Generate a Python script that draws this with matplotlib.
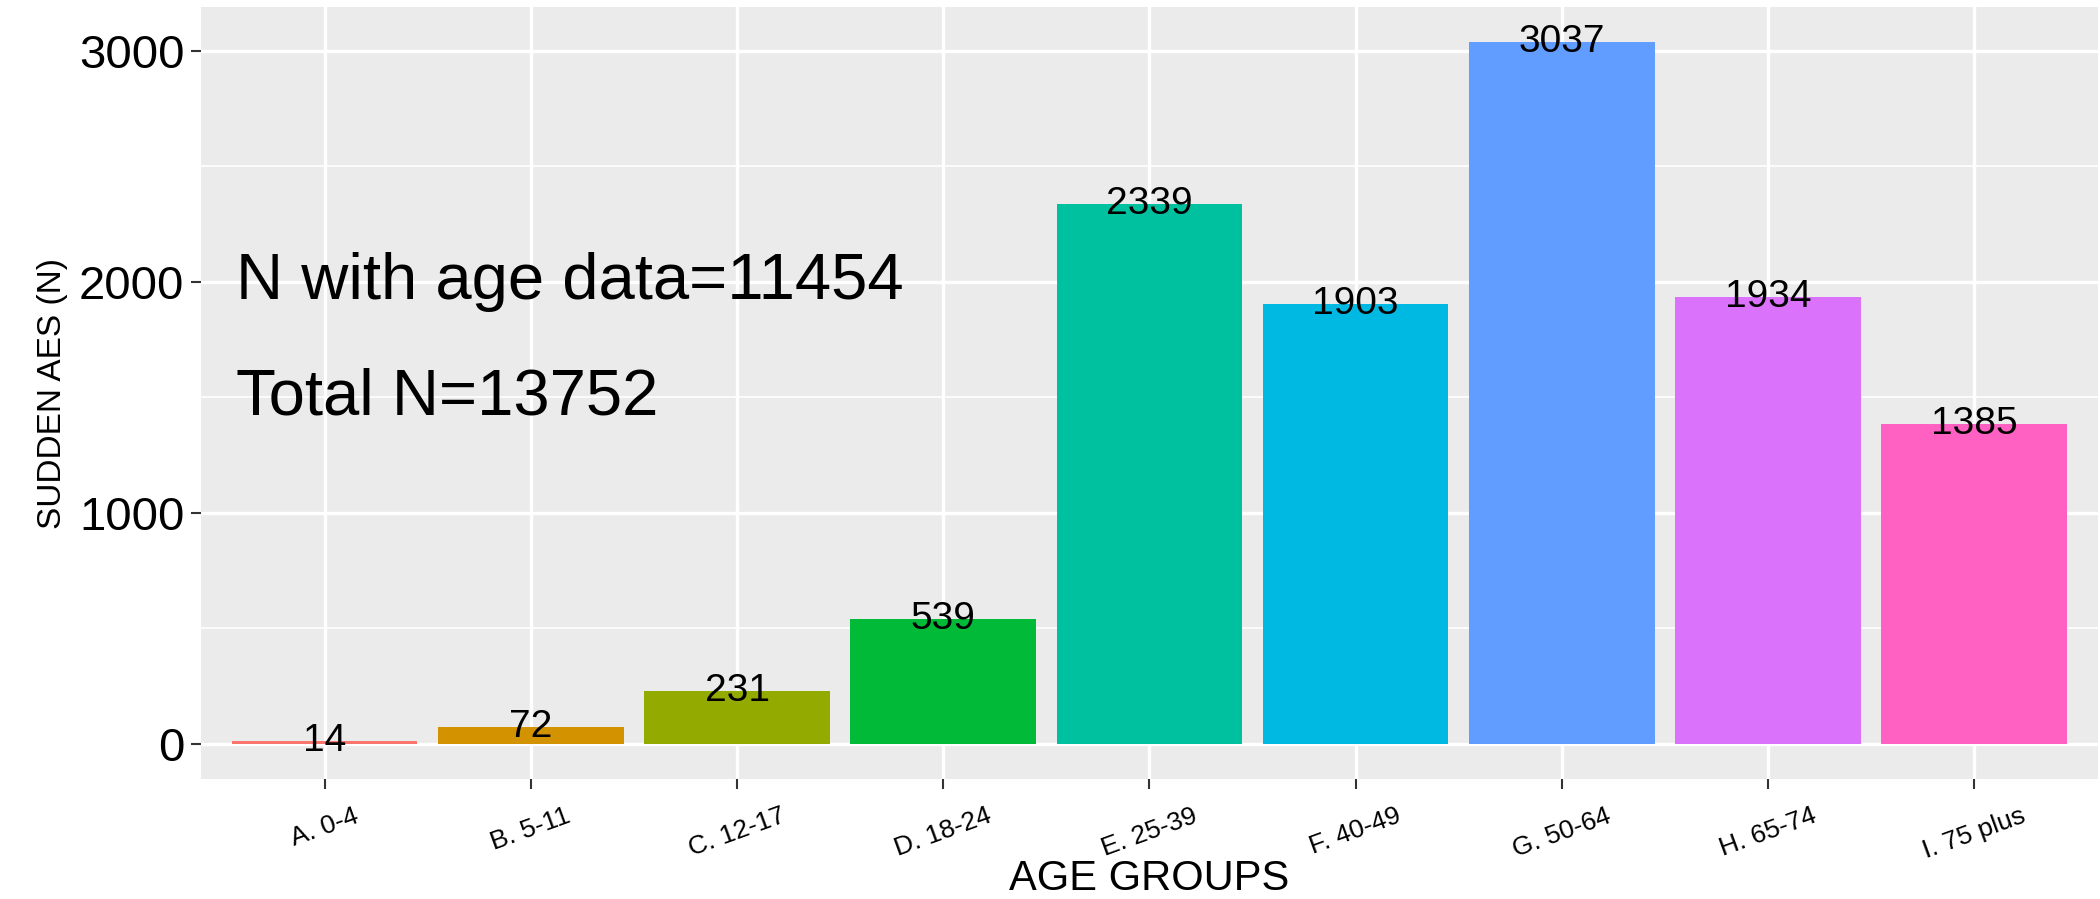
import matplotlib.pyplot as plt
from matplotlib.ticker import MultipleLocator

# data
groups = ['A. 0-4', 'B. 5-11', 'C. 12-17', 'D. 18-24', 'E. 25-39',
          'F. 40-49', 'G. 50-64', 'H. 65-74', 'I. 75 plus']
counts = [14, 72, 231, 539, 2339, 1903, 3037, 1934, 1385]
colors = ['#F8766D', '#D39200', '#93AA00', '#00BA38', '#00C19F',
          '#00B9E3', '#619CFF', '#DB72FB', '#FF61C3']
notes = ['N with age data=11454', 'Total N=13752']
note_y = [2000, 1500]

plt.rcParams['font.family'] = ['Liberation Sans', 'DejaVu Sans']

fig = plt.figure(figsize=(21, 8.99), dpi=100)
ax = fig.add_axes([0.0957, 0.1335, 0.9033, 0.8585])
ax.set_facecolor('#EBEBEB')

x = list(range(len(groups)))
ax.bar(x, counts, width=0.9, color=colors, zorder=3)

# value labels centred on bar tops
for xi, c in zip(x, counts):
    ax.text(xi, c, str(c), ha='center', va='center', fontsize=28, zorder=4)

# annotations
for t, yv in zip(notes, note_y):
    ax.text(-0.43, yv, t, ha='left', va='center', fontsize=47, zorder=4)

ax.set_xlim(-0.6, len(groups) - 0.4)
ax.set_ylim(-152, 3189)
ax.yaxis.set_major_locator(MultipleLocator(1000))
ax.yaxis.set_minor_locator(MultipleLocator(500))
ax.grid(which='major', color='white', linewidth=2.4, zorder=0)
ax.grid(which='minor', axis='y', color='white', linewidth=1.2, zorder=0)
ax.set_axisbelow(True)
for s in ax.spines.values():
    s.set_visible(False)

ax.set_xticks(x)
ax.set_xticklabels(groups, rotation=20, ha='center', fontsize=19)
ax.tick_params(axis='x', length=7, width=1.5, color='#333333', pad=11)
ax.tick_params(axis='y', which='major', length=7, width=1.5, color='#333333',
               labelsize=34, pad=5)
ax.tick_params(axis='y', which='minor', length=0)

ax.set_xlabel('AGE GROUPS', fontsize=30, labelpad=-3)
ax.set_ylabel('SUDDEN AES (N)', fontsize=24, labelpad=8,
              family=['Liberation Sans Narrow', 'Liberation Sans', 'DejaVu Sans'])

fig.savefig('out.png', dpi=100)
